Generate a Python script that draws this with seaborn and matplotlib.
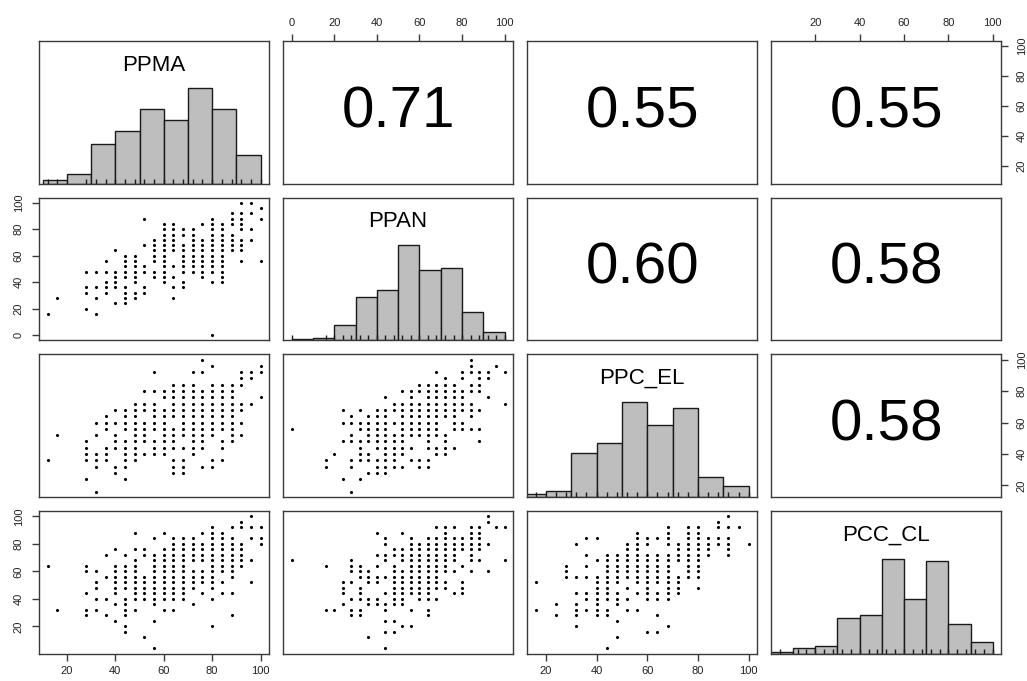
import numpy as np
import pandas as pd
import matplotlib
matplotlib.use("Agg")
import matplotlib.pyplot as plt
from matplotlib.ticker import MultipleLocator, NullLocator
import seaborn as sns

names = ["PPMA", "PPAN", "PPC_EL", "PCC_CL"]

# lower panels as {y: [x, ...]}
ppan_ppma = {
    100: [92, 96], 96: [100], 92: [88, 92, 96], 88: [52, 80, 88, 92, 100],
    84: [60, 64, 76, 80, 84, 88, 92], 80: [60, 64, 68, 72, 80, 84, 92, 96],
    76: [60, 64, 68, 72, 80, 84, 88], 72: [56, 60, 64, 72, 76, 80, 84, 88, 92, 96],
    68: [52, 56, 60, 64, 68, 72, 76, 80, 84, 88, 92],
    64: [40, 56, 60, 64, 68, 72, 76, 80, 84, 88, 92],
    60: [44, 48, 56, 60, 68, 72, 76, 80, 84],
    56: [36, 44, 48, 56, 60, 68, 72, 76, 80, 84, 92, 100],
    52: [44, 48, 52, 60, 64, 68, 72, 76, 80, 84],
    48: [28, 32, 36, 40, 44, 48, 52, 56, 60, 68, 72, 76, 80, 84],
    44: [40, 44, 48, 56, 60, 64, 76, 84], 40: [36, 40, 48, 60, 68, 80, 84],
    36: [28, 32, 36, 40, 44, 52, 64, 68], 32: [28, 36, 44, 48, 52],
    28: [16, 32, 44, 48, 64], 24: [40, 44], 20: [28], 16: [12, 32], 0: [80],
}
ppcel_ppma = {
    100: [76], 96: [80, 100], 92: [56, 72, 76, 92, 96, 100], 88: [92, 96],
    84: [64, 68, 72, 80, 84, 88, 92], 80: [52, 56, 60, 64, 68, 72, 76, 80, 84, 88],
    76: [60, 64, 68, 72, 76, 80, 84, 88, 100],
    72: [48, 52, 56, 64, 68, 72, 76, 80, 84, 88, 92, 96],
    68: [40, 44, 48, 52, 56, 60, 64, 68, 72, 76, 80, 84, 88, 92],
    64: [36, 44, 48, 56, 60, 64, 68, 72, 76, 80, 84, 88],
    60: [32, 36, 40, 44, 48, 52, 56, 60, 68, 72, 76, 80, 84, 88, 92],
    56: [36, 44, 48, 52, 56, 60, 64, 68, 72, 76, 80, 84, 88],
    52: [16, 32, 40, 48, 52, 60, 64, 68, 72, 76, 80, 88, 92],
    48: [28, 40, 44, 48, 52, 56, 60, 64, 72, 76, 84, 88],
    44: [28, 36, 40, 44, 48, 56, 60, 64, 68, 72, 76, 84],
    40: [28, 32, 36, 44, 48, 52, 56, 60, 72],
    36: [12, 28, 32, 36, 44, 48, 64, 68, 80, 84],
    32: [32, 40, 44, 64, 68, 76, 80], 28: [40, 64, 68], 24: [28, 44], 16: [32],
}
ppcel_ppan = {
    100: [84], 96: [84, 96], 92: [68, 80, 84, 88, 92, 100], 88: [72, 80, 88, 92],
    84: [60, 64, 68, 72, 76, 84, 88], 80: [52, 56, 60, 64, 68, 72, 76, 80, 84, 88],
    76: [44, 56, 64, 68, 72, 76, 80, 92],
    72: [48, 52, 56, 60, 64, 68, 72, 76, 80, 84, 100],
    68: [24, 32, 40, 44, 48, 52, 56, 60, 64, 68, 72, 76, 80, 84, 88],
    64: [28, 36, 40, 44, 52, 56, 60, 64, 68, 72, 76, 84],
    60: [24, 28, 32, 36, 40, 44, 48, 52, 56, 60, 64, 68, 76, 80],
    56: [0, 32, 36, 40, 44, 52, 56, 60, 64, 68, 76, 80, 84, 88],
    52: [28, 36, 40, 44, 48, 52, 56, 60, 64, 68, 72],
    48: [24, 28, 32, 36, 40, 44, 48, 52, 64, 72, 88],
    44: [32, 40, 44, 48, 52, 56, 64, 68, 72, 76],
    40: [20, 32, 36, 44, 48, 52, 68, 72],
    36: [16, 28, 32, 36, 40, 44, 48, 56, 60, 64],
    32: [16, 28, 40, 44, 48, 52, 60, 64], 28: [36, 40, 44], 24: [24, 32], 16: [28],
}
pcccl_ppma = {
    100: [96], 96: [92], 92: [80, 88, 92, 96, 100], 88: [48, 60, 76, 80, 84],
    84: [56, 64, 68, 72, 80, 84, 88, 96, 100], 80: [64, 68, 72, 76, 80, 84, 88, 92, 100],
    76: [40, 48, 52, 60, 64, 68, 72, 76, 80, 84, 88, 92],
    72: [36, 44, 52, 56, 60, 64, 68, 72, 76, 80, 84, 88, 92],
    68: [48, 56, 60, 64, 68, 72, 76, 80, 84, 88, 92, 96],
    64: [12, 28, 40, 44, 48, 56, 60, 64, 68, 80, 84, 88, 92],
    60: [28, 32, 40, 44, 48, 56, 60, 64, 68, 72, 76, 80, 84, 88],
    56: [36, 40, 44, 48, 52, 56, 60, 64, 68, 72, 76, 80, 88],
    52: [32, 40, 44, 48, 52, 56, 60, 64, 68, 72, 76, 80, 84, 96],
    48: [32, 40, 44, 48, 52, 56, 60, 64, 68, 72, 80],
    44: [28, 40, 48, 52, 56, 60, 64, 68, 76, 84, 88],
    40: [32, 36, 44, 48, 52, 56, 60, 64, 68, 80],
    36: [40, 44, 56, 72], 32: [16, 28, 32, 44, 48, 60, 64], 28: [28, 36, 44, 88],
    24: [40, 56], 20: [44, 80], 16: [44], 12: [52], 4: [56],
}
pcccl_ppan = {
    100: [92], 96: [92], 92: [68, 72, 76, 84, 88, 96, 100], 88: [40, 52, 72, 84, 88],
    84: [44, 56, 64, 68, 72, 76, 80, 84, 88], 80: [44, 56, 60, 64, 68, 72, 76, 80, 84, 88, 92],
    76: [48, 52, 56, 60, 64, 68, 72, 76, 80, 84, 88],
    72: [40, 44, 48, 52, 56, 60, 64, 68, 72, 76, 84],
    68: [0, 28, 44, 52, 56, 60, 64, 68, 72, 76, 84, 88, 100],
    64: [16, 28, 32, 40, 48, 56, 60, 64, 68, 72, 80],
    60: [28, 32, 36, 48, 52, 56, 60, 64, 68, 72, 76, 84, 92],
    56: [32, 36, 40, 44, 48, 52, 56, 60, 64, 68],
    52: [24, 28, 36, 40, 48, 52, 56, 60, 64, 68, 72, 80],
    48: [24, 32, 48, 52, 56, 60, 64, 68, 72, 80],
    44: [24, 32, 44, 48, 52, 56, 60, 64, 76, 80],
    40: [28, 32, 36, 40, 48, 52, 60, 64, 68], 36: [24, 36, 40, 44, 48, 52],
    32: [16, 20, 28, 32, 44, 56, 64], 28: [28, 32, 64], 24: [44, 48], 20: [52, 56],
    16: [44, 48], 12: [36], 4: [44],
}
pcccl_ppcel = {
    100: [92], 96: [88], 92: [68, 76, 80, 88, 92, 96], 88: [56, 68, 76, 80],
    84: [36, 40, 56, 60, 64, 68, 76, 80, 84, 88, 92],
    80: [32, 52, 56, 60, 68, 72, 76, 80, 84, 88, 92, 100],
    76: [52, 56, 72, 76, 80, 84, 92],
    72: [36, 44, 48, 52, 56, 60, 64, 68, 72, 76, 80, 84, 92],
    68: [40, 44, 48, 52, 56, 60, 64, 68, 72, 76, 80],
    64: [28, 36, 44, 48, 52, 56, 60, 64, 68, 76, 80],
    60: [28, 44, 48, 52, 56, 60, 64, 68, 76, 80],
    56: [28, 32, 36, 40, 44, 48, 52, 56, 60, 64, 68, 72, 76, 80],
    52: [16, 40, 44, 48, 56, 60, 64, 68, 72],
    48: [40, 44, 52, 60, 68, 72, 80],
    44: [32, 36, 40, 44, 48, 56, 60, 64, 68, 72],
    40: [36, 40, 44, 48, 52, 60, 64, 68], 36: [24, 32, 40, 48],
    32: [16, 32, 36, 40, 44, 52, 56], 28: [24, 32, 40, 44, 64], 24: [48],
    20: [32, 68], 16: [60, 64], 12: [48], 4: [44],
}

# (row, col) -> points; row is the y variable, col the x variable
lower = {(1, 0): ppan_ppma, (2, 0): ppcel_ppma, (2, 1): ppcel_ppan,
         (3, 0): pcccl_ppma, (3, 1): pcccl_ppan, (3, 2): pcccl_ppcel}

corr = {(0, 1): "0.71", (0, 2): "0.55", (0, 3): "0.55",
        (1, 2): "0.60", (1, 3): "0.58", (2, 3): "0.58"}

# histogram bins and counts for the diagonal
hist_edges = [
    [10, 20, 30, 40, 50, 60, 70, 80, 90, 100],
    [0, 10, 20, 30, 40, 50, 60, 70, 80, 90, 100],
    [10, 20, 30, 40, 50, 60, 70, 80, 90, 100],
    [0, 10, 20, 30, 40, 50, 60, 70, 80, 90, 100],
]
hist_counts = [
    [2, 6, 25, 33, 47, 40, 60, 47, 18],
    [1, 2, 11, 31, 36, 68, 50, 52, 20, 6],
    [2, 4, 31, 38, 67, 51, 63, 14, 8],
    [1, 4, 6, 27, 29, 71, 41, 69, 22, 9],
]


def to_frame(pts):
    rows = [(x, y) for y, xs in pts.items() for x in xs]
    return pd.DataFrame(rows, columns=["x", "y"])


frames = {k: to_frame(v) for k, v in lower.items()}

# values of each variable seen in the scatter panels
values = {i: set() for i in range(4)}
for (r, c), df in frames.items():
    values[c].update(df["x"])
    values[r].update(df["y"])
limits = {}
for i in range(4):
    lo, hi = min(values[i]), max(values[i])
    pad = 0.04 * (hi - lo)
    limits[i] = (lo - pad, hi + pad)

sns.set_theme(style="white")
plt.rcParams["font.family"] = ["Liberation Sans", "DejaVu Sans"]

fig, axes = plt.subplots(4, 4, figsize=(10.27, 6.81), dpi=100)
fig.subplots_adjust(left=0.038, right=0.975, top=0.940, bottom=0.040,
                    wspace=0.061, hspace=0.098)

for r in range(4):
    for c in range(4):
        ax = axes[r, c]
        for s in ax.spines.values():
            s.set_visible(True)
            s.set_color("#3a3a3a")
            s.set_linewidth(1.0)
        ax.set_xlim(limits[c])
        if r == c:
            edges = hist_edges[r]
            centers = [(a + b) / 2 for a, b in zip(edges[:-1], edges[1:])]
            sns.histplot(x=centers, weights=hist_counts[r], bins=edges, ax=ax,
                         color="#BEBEBE", edgecolor="#1a1a1a", linewidth=1.0, alpha=1)
            ax.set_ylim(0, 1.5 * max(hist_counts[r]))
            sns.rugplot(x=sorted(values[r]), height=0.035, ax=ax,
                        color="#1a1a1a", linewidth=1.0)
            ax.text(0.5, 0.83, names[r], transform=ax.transAxes,
                    ha="center", va="center", fontsize=16, color="black")
        elif r > c:
            ax.set_ylim(limits[r])
            sns.scatterplot(data=frames[(r, c)], x="x", y="y", ax=ax, s=5,
                            color="black", linewidth=0, marker="o")
        else:
            ax.set_ylim(limits[r])
            ax.text(0.5, 0.5, corr[(r, c)], transform=ax.transAxes,
                    ha="center", va="center", fontsize=42, color="black")
        ax.set_xlabel("")
        ax.set_ylabel("")
        ax.xaxis.set_major_locator(NullLocator())
        ax.yaxis.set_major_locator(NullLocator())

tick_kw = dict(labelsize=8, length=5, width=1, colors="#3a3a3a",
               labelcolor="#222222")

for c in (1, 3):
    ax = axes[0, c]
    ax.xaxis.set_major_locator(MultipleLocator(20))
    ax.xaxis.tick_top()
    ax.tick_params(axis="x", which="major", top=True, bottom=False, pad=4, **tick_kw)
for c in (0, 2):
    ax = axes[3, c]
    ax.xaxis.set_major_locator(MultipleLocator(20))
    ax.tick_params(axis="x", which="major", bottom=True, pad=4, **tick_kw)
for r in (1, 3):
    ax = axes[r, 0]
    ax.yaxis.set_major_locator(MultipleLocator(20))
    ax.tick_params(axis="y", which="major", left=True, pad=6, **tick_kw)
    for lab in ax.get_yticklabels():
        lab.set_rotation(90)
        lab.set_va("center")
for r in (0, 2):
    ax = axes[r, 3]
    ax.yaxis.set_major_locator(MultipleLocator(20))
    ax.yaxis.tick_right()
    ax.tick_params(axis="y", which="major", right=True, left=False, pad=6, **tick_kw)
    for lab in ax.get_yticklabels():
        lab.set_rotation(90)
        lab.set_va("center")

fig.savefig("out.png", dpi=100)
